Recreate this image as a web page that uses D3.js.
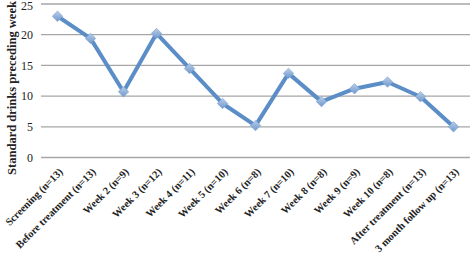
<!DOCTYPE html>
<html><head><meta charset="utf-8">
<script src="https://cdn.jsdelivr.net/npm/d3@7"></script>
<style>body{margin:0;background:#fff}svg{display:block}</style>
</head><body>
<svg id="c" width="472" height="256"></svg>
<script>
const categories = ["Screening (n=13)","Before treatment (n=13)","Week 2 (n=9)","Week 3 (n=12)","Week 4 (n=11)","Week 5 (n=10)","Week 6 (n=8)","Week 7 (n=10)","Week 8 (n=8)","Week 9 (n=9)","Week 10 (n=8)","After treatment (n=13)","3 month follow up (n=13)"];
const values = [23.0,19.4,10.7,20.2,14.5,8.8,5.2,13.7,9.1,11.2,12.3,9.9,5.0];
const yTicks = [0,5,10,15,20,25];
const yTitle = "Standard drinks preceding week";

const svg = d3.select("#c");
const m = {l:41, r:2, t:4, b:98.5};
const W = 472, H = 256;
const x = d3.scaleBand().domain(categories).range([m.l, W-m.r]);
const y = d3.scaleLinear().domain([0,25]).range([H-m.b, m.t]);

const defs = svg.append("defs");
const g = defs.append("linearGradient").attr("id","mk").attr("x1",0).attr("y1",0).attr("x2",0).attr("y2",1);
g.append("stop").attr("offset","0%").attr("stop-color","#b9cde8");
g.append("stop").attr("offset","100%").attr("stop-color","#6f98cc");

// gridlines
svg.append("g").selectAll("line").data(yTicks).join("line")
  .attr("x1", m.l).attr("x2", W-m.r)
  .attr("y1", d=>y(d)).attr("y2", d=>y(d))
  .attr("stroke","#a6a6a6").attr("stroke-width",1.3);

// y tick labels
const yAxis = d3.axisLeft(y).tickValues(yTicks).tickSize(0).tickPadding(8);
const ya = svg.append("g").attr("transform",`translate(${m.l},0)`).call(yAxis);
ya.select(".domain").remove();
ya.selectAll("text").attr("font-family","Liberation Serif, serif").attr("font-size",12).attr("fill","#222")
  .attr("dy", (d,i)=> d===25 ? "0.42em" : "0.32em");

// x labels
const xAxis = d3.axisBottom(x).tickSize(0).tickPadding(0);
const xa = svg.append("g").attr("transform",`translate(0,${H-m.b})`).call(xAxis);
xa.select(".domain").remove();
xa.selectAll("text")
  .attr("font-family","Liberation Serif, serif").attr("font-size",10.5).attr("font-weight","bold").attr("fill","#222")
  .attr("text-anchor","end").attr("dy",0)
  .attr("transform","translate(6,15) rotate(-45)");

// y title
svg.append("text").attr("transform",`translate(16,88) rotate(-90)`)
  .attr("text-anchor","middle").attr("font-family","Liberation Serif, serif")
  .attr("font-size",12.5).attr("font-weight","bold").attr("fill","#222").text(yTitle);

// line
const line = d3.line().x((d,i)=>x(categories[i])+x.bandwidth()/2).y(d=>y(d));
svg.append("path").datum(values).attr("d",line).attr("fill","none")
  .attr("stroke","#5b8ec7").attr("stroke-width",4).attr("stroke-linejoin","round");

// markers
const sym = d3.symbol().type(d3.symbolDiamond2).size(70);
svg.append("g").selectAll("path").data(values).join("path")
  .attr("d", sym)
  .attr("transform",(d,i)=>`translate(${x(categories[i])+x.bandwidth()/2},${y(d)})`)
  .attr("fill","url(#mk)").attr("stroke","#7ea3d1").attr("stroke-width",0.6);
</script>
</body></html>
